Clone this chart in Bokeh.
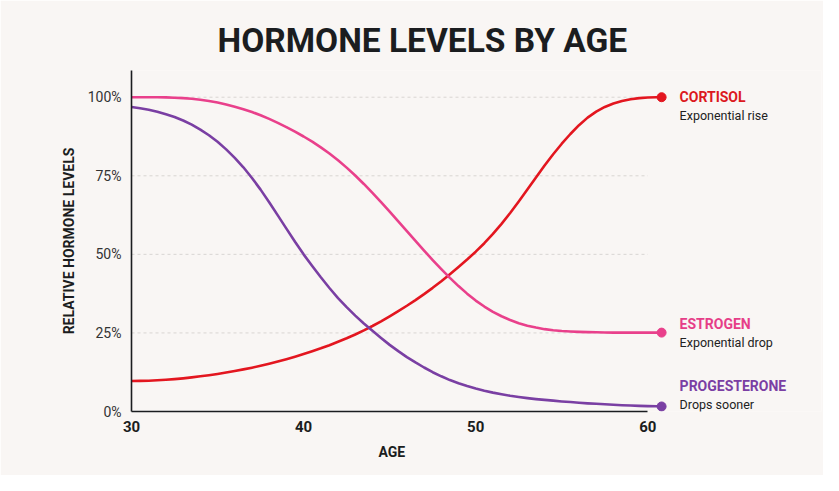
from bokeh.plotting import figure
from bokeh.models import Range1d, FixedTicker, Title, ColumnDataSource
from bokeh.core.properties import value
from bokeh.embed import file_html
from bokeh.resources import INLINE

# ---------------- data ----------------
ages = [30, 30.5, 31, 31.5, 32, 32.5, 33, 33.5, 34, 34.5, 35, 35.5, 36, 36.5, 37, 37.5,
        38, 38.5, 39, 39.5, 40, 40.5, 41, 41.5, 42, 42.5, 43, 43.5, 44, 44.5, 45, 45.5,
        46, 46.5, 47, 47.5, 48, 48.5, 49, 49.5, 50, 50.5, 51, 51.5, 52, 52.5, 53, 53.5,
        54, 54.5, 55, 55.5, 56, 56.5, 57, 57.5, 58, 58.5, 59, 59.5, 60, 60.5, 60.8]
cortisol = [9.7, 9.75, 9.8, 9.95, 10.1, 10.3, 10.55, 10.85, 11.2, 11.55, 11.95, 12.4, 12.9,
            13.4, 13.95, 14.55, 15.2, 15.9, 16.65, 17.45, 18.3, 19.2, 20.1, 21.1, 22.2,
            23.3, 24.5, 25.8, 27.2, 28.7, 30.3, 31.95, 33.65, 35.45, 37.35, 39.35, 41.45,
            43.7, 46.0, 48.35, 50.85, 53.55, 56.5, 59.7, 63.15, 66.8, 70.6, 74.45, 78.25,
            81.85, 85.2, 88.3, 91.1, 93.5, 95.4, 96.9, 98.0, 98.8, 99.35, 99.7, 99.9,
            100.0, 100.0]
estrogen = [100.0, 100.0, 100.0, 100.0, 99.95, 99.85, 99.7, 99.5, 99.2, 98.8, 98.3, 97.7,
            97.0, 96.2, 95.3, 94.25, 93.1, 91.85, 90.5, 89.05, 87.5, 85.85, 84.05, 82.1,
            79.95, 77.6, 75.1, 72.4, 69.55, 66.6, 63.6, 60.5, 57.4, 54.3, 51.2, 48.2, 45.3,
            42.5, 39.9, 37.5, 35.3, 33.4, 31.7, 30.3, 29.1, 28.1, 27.3, 26.7, 26.2, 25.85,
            25.6, 25.45, 25.35, 25.25, 25.2, 25.15, 25.1, 25.1, 25.1, 25.1, 25.1, 25.1, 25.1]
progesterone = [96.9, 96.5, 96.0, 95.4, 94.6, 93.7, 92.6, 91.3, 89.7, 87.9, 85.8, 83.4, 80.7,
                77.7, 74.3, 70.6, 66.6, 62.4, 58.2, 54.0, 50.0, 46.3, 42.7, 39.3, 36.1,
                33.2, 30.5, 28.0, 25.7, 23.4, 21.2, 19.2, 17.3, 15.6, 14.0, 12.5, 11.2,
                10.0, 9.0, 8.1, 7.3, 6.6, 6.0, 5.5, 5.0, 4.6, 4.25, 3.95, 3.7, 3.45, 3.2,
                3.0, 2.8, 2.6, 2.45, 2.3, 2.15, 2.0, 1.9, 1.8, 1.7, 1.65, 1.6]

series_names = ["CORTISOL", "ESTROGEN", "PROGESTERONE"]
series_notes = ["Exponential rise", "Exponential drop", "Drops sooner"]
series_values = [cortisol, estrogen, progesterone]

x_ticks = [30, 40, 50, 60]
y_ticks = [0, 25, 50, 75, 100]
y_tick_labels = ["0%", "25%", "50%", "75%", "100%"]
grid_levels = [25, 50, 75, 100]
axis_span = [30, 60]

# ---------------- styles / layout ----------------
BG = "#f9f6f4"
INK = "#1b1d20"
colors = ["#e3161f", "#e9408b", "#7a3fa3"]
text_colors = ["#dc1820", "#e63e88", "#7b3fa4"]
# label offsets in screen pixels (downward positive): series name, note
name_dy = [0, -9, -20]
note_dy = [18, 10, -2]

p = figure(width=823, height=475, output_backend="svg", toolbar_location=None,
           x_range=Range1d(30, 70.09), y_range=Range1d(0, 108.5),
           min_border_left=131, min_border_right=2, min_border_top=70, min_border_bottom=64,
           background_fill_color=BG, border_fill_color=BG, outline_line_color=None)
p.xgrid.visible = False
p.ygrid.visible = False

# dashed grid lines, limited to the age span
p.segment(x0=[axis_span[0]] * len(grid_levels), x1=[axis_span[1]] * len(grid_levels),
          y0=grid_levels, y1=grid_levels, line_color="#d9d5d2", line_width=1,
          line_dash="3 3")

for vals, c in zip(series_values, colors):
    p.line(ages, vals, line_color=c, line_width=2.6, line_cap="round", line_join="round")
    p.scatter([ages[-1]], [vals[-1]], size=9, fill_color=c, line_color=c)

end_vals = [v[-1] for v in series_values]
end_x = [ages[-1]] * len(series_values)
names_src = ColumnDataSource(dict(x=end_x, y=end_vals, t=series_names, c=text_colors,
                                  dy=name_dy))
notes_src = ColumnDataSource(dict(x=end_x, y=end_vals, t=series_notes, dy=note_dy))
p.text(x="x", y="y", text="t", source=names_src, x_offset=18, y_offset="dy",
       text_color="c", text_font=value("Roboto"), text_font_style="bold",
       text_font_size=value("14px"), text_baseline="middle", text_align="left")
p.text(x="x", y="y", text="t", source=notes_src, x_offset=18, y_offset="dy",
       text_color="#222222", text_font=value("Roboto"), text_font_size=value("12.5px"),
       text_baseline="middle", text_align="left")

# chart title
p.add_layout(Title(text="HORMONE LEVELS BY AGE", align="left", offset=86,
                   text_font="Roboto", text_font_style="bold", text_font_size="33.5px",
                   text_color=INK, standoff=22), "above")

# x axis
xa = p.xaxis[0]
xa.ticker = FixedTicker(ticks=x_ticks)
xa.bounds = (axis_span[0], axis_span[1])
xa.major_tick_line_color = None
xa.major_tick_out = 0
xa.minor_tick_line_color = None
xa.minor_tick_out = 0
xa.axis_line_color = INK
xa.axis_line_width = 1.6
xa.major_label_text_font = "Roboto"
xa.major_label_text_font_style = "bold"
xa.major_label_text_font_size = "15px"
xa.major_label_text_color = INK
xa.major_label_standoff = 9

# x axis title, centred under the age span
p.add_layout(Title(text="AGE", align="left", offset=247, text_font="Roboto",
                   text_font_style="bold", text_font_size="14px", text_color=INK,
                   standoff=15), "below")

# y axis
ya = p.yaxis[0]
ya.ticker = FixedTicker(ticks=y_ticks)
ya.major_label_overrides = {t: l for t, l in zip(y_ticks, y_tick_labels)}
ya.major_tick_line_color = None
ya.major_tick_out = 0
ya.minor_tick_line_color = None
ya.minor_tick_out = 0
ya.axis_line_color = INK
ya.axis_line_width = 1.6
ya.major_label_text_font = "Roboto"
ya.major_label_text_font_size = "14px"
ya.major_label_text_color = "#333333"
ya.major_label_standoff = 10
ya.axis_label = "RELATIVE HORMONE LEVELS"
ya.axis_label_text_font = "Roboto"
ya.axis_label_text_font_style = "bold"
ya.axis_label_text_font_size = "14px"
ya.axis_label_text_color = INK
ya.axis_label_standoff = 8

open("out.html", "w").write(file_html(p, INLINE))
